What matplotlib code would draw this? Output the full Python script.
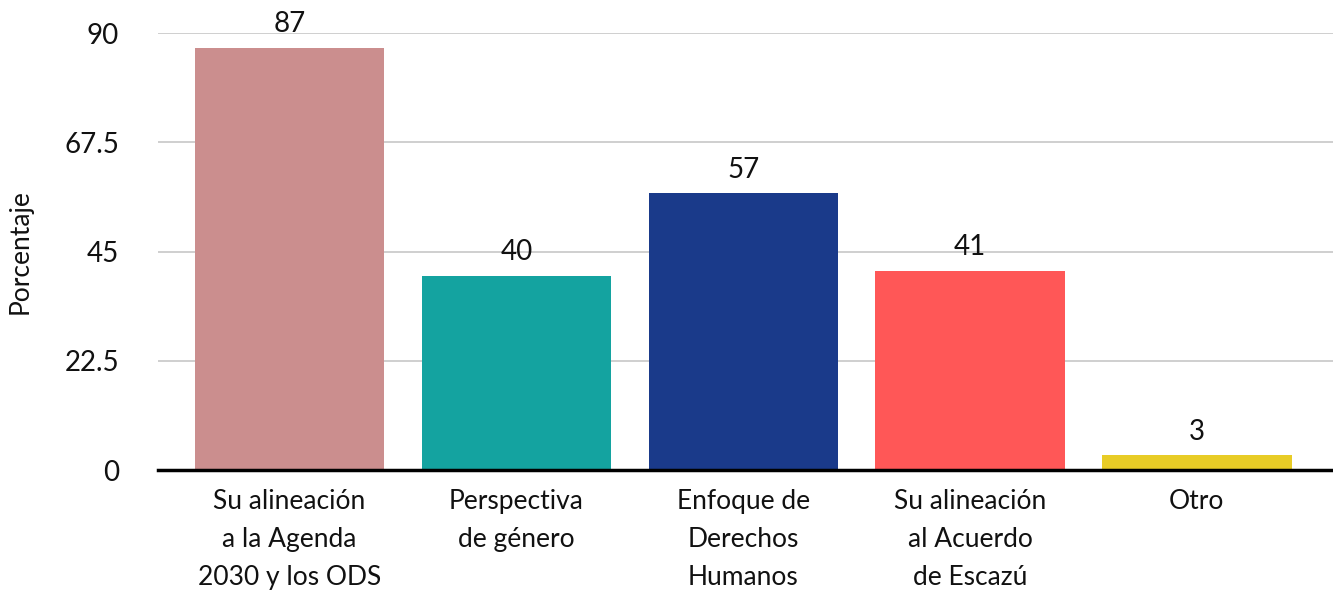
import matplotlib.pyplot as plt

plt.rcParams['font.family'] = ['Lato', 'DejaVu Sans']

# datos
categorias = ['Su alineación\na la Agenda\n2030 y los ODS', 'Perspectiva\nde género',
              'Enfoque de\nDerechos\nHumanos', 'Su alineación\nal Acuerdo\nde Escazú', 'Otro']
valores = [87, 40, 57, 41, 3]
colores = ['#CB8E8E', '#14A3A0', '#1A3A8A', '#FF5757', '#E8CC26']
ticks_y = [0, 22.5, 45, 67.5, 90]

fig = plt.figure(figsize=(13.33, 5.92), dpi=100)
ax = fig.add_axes([0.1185, 0.206, 0.8815, 0.738])

x = range(len(categorias))
ax.bar(x, valores, width=0.835, color=colores, zorder=2)

for xi, v in zip(x, valores):
    ax.text(xi, v + 2.2, str(v), ha='center', va='bottom', fontsize=20, color='#111111')

ax.set_xlim(-0.58, 4.6)
ax.set_ylim(0, 90)
ax.set_yticks(ticks_y)
ax.set_yticklabels(['0', '22.5', '45', '67.5', '90'])
ax.set_xticks(list(x))
ax.set_xticklabels(categorias, fontsize=19, linespacing=1.65, color='#111111')
ax.tick_params(axis='y', length=0, pad=28, labelsize=20, labelcolor='#111111')
ax.tick_params(axis='x', length=0, pad=14)
ax.grid(axis='y', color='#CCCCCC', linewidth=1.3, zorder=0)
ax.set_axisbelow(True)

for s in ['top', 'right', 'left']:
    ax.spines[s].set_visible(False)
ax.spines['bottom'].set_linewidth(2.5)
ax.spines['bottom'].set_color('black')
ax.spines['bottom'].set_zorder(3)

ax.set_ylabel('Porcentaje', fontsize=19, color='#111111')
ax.yaxis.set_label_coords(-0.107, 0.5)

plt.savefig('out.png', dpi=100)
